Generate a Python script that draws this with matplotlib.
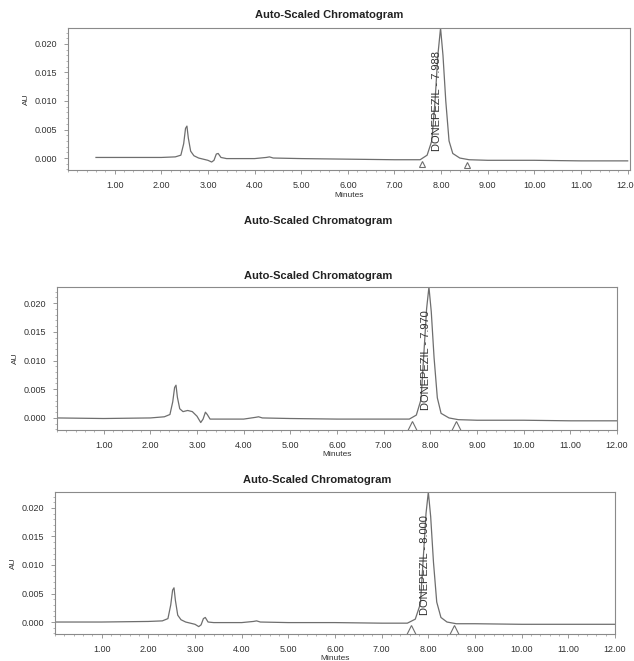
import matplotlib
matplotlib.use("Agg")
import matplotlib.pyplot as plt
from matplotlib.ticker import MultipleLocator, FormatStrFormatter

plt.rcParams['font.family'] = ['Liberation Sans', 'DejaVu Sans']

# ----------------------------
# DATA
# ----------------------------
t1 = [0.6, 1.5, 2.0, 2.3, 2.42, 2.48, 2.52, 2.55, 2.58, 2.63, 2.7, 2.8, 2.9, 3.0, 3.08, 3.13,
      3.18, 3.22, 3.28, 3.4, 4.0, 4.25, 4.32, 4.4, 5.0, 6.0, 7.0, 7.55, 7.7, 7.8, 7.87, 7.93,
      7.988, 8.04, 8.1, 8.17, 8.25, 8.4, 8.6, 9.0, 10.0, 11.0, 12.0]
au1 = [0.0001, 0.0001, 0.0001, 0.0002, 0.0005, 0.0025, 0.0052, 0.0056, 0.0035, 0.0012, 0.0004,
       0.0000, -0.0002, -0.0004, -0.0007, -0.0004, 0.0007, 0.0008, 0.0001, -0.0001, -0.0001,
       0.0001, 0.0002, 0.0000, -0.0001, -0.0002, -0.0003, -0.0003, 0.0005, 0.0030, 0.0100,
       0.0180, 0.0228, 0.0180, 0.0100, 0.0030, 0.0008, 0.0000, -0.0003, -0.0004, -0.0004,
       -0.0005, -0.0005]

t2 = [0.0, 1.0, 2.0, 2.3, 2.42, 2.48, 2.52, 2.55, 2.58, 2.63, 2.7, 2.8, 2.9, 3.0, 3.08, 3.13,
      3.18, 3.22, 3.28, 3.4, 4.0, 4.25, 4.32, 4.4, 5.0, 6.0, 7.0, 7.55, 7.7, 7.8, 7.86, 7.92,
      7.97, 8.02, 8.08, 8.15, 8.23, 8.4, 8.6, 9.0, 10.0, 11.0, 12.0]
au2 = [0.0000, -0.0001, 0.0000, 0.0002, 0.0006, 0.0028, 0.0053, 0.0057, 0.0036, 0.0016, 0.0011,
       0.0013, 0.0011, 0.0003, -0.0008, -0.0002, 0.0010, 0.0006, -0.0002, -0.0002, -0.0002,
       0.0001, 0.0002, 0.0000, -0.0001, -0.0002, -0.0002, -0.0002, 0.0005, 0.0032, 0.0110,
       0.0190, 0.0228, 0.0185, 0.0105, 0.0035, 0.0008, 0.0000, -0.0003, -0.0004, -0.0004,
       -0.0005, -0.0005]

t3 = [0.0, 1.0, 2.0, 2.3, 2.42, 2.48, 2.52, 2.55, 2.58, 2.63, 2.7, 2.8, 2.9, 3.0, 3.08, 3.13,
      3.18, 3.22, 3.28, 3.4, 4.0, 4.25, 4.32, 4.4, 5.0, 6.0, 7.0, 7.55, 7.72, 7.83, 7.89, 7.95,
      8.0, 8.05, 8.11, 8.18, 8.27, 8.4, 8.6, 9.0, 10.0, 11.0, 12.0]
au3 = [0.0000, 0.0000, 0.0001, 0.0002, 0.0006, 0.0030, 0.0056, 0.0060, 0.0038, 0.0012, 0.0004,
       0.0000, -0.0002, -0.0004, -0.0008, -0.0005, 0.0006, 0.0008, 0.0000, -0.0001, -0.0001,
       0.0001, 0.0002, 0.0000, -0.0001, -0.0001, -0.0002, -0.0002, 0.0005, 0.0032, 0.0110,
       0.0190, 0.0228, 0.0185, 0.0105, 0.0035, 0.0008, 0.0000, -0.0003, -0.0003, -0.0004,
       -0.0004, -0.0004]

times = [t1, t2, t3]
signals = [au1, au2, au3]
peak_rt = [7.988, 7.970, 8.000]
peak_names = ["DONEPEZIL - 7.988", "DONEPEZIL - 7.970", "DONEPEZIL - 8.000"]
marks_start = [7.60, 7.60, 7.62]
marks_end = [8.55, 8.55, 8.55]
x_ticks = [1, 2, 3, 4, 5, 6, 7, 8, 9, 10, 11, 12]
title = "Auto-Scaled Chromatogram"

# ----------------------------
# LAYOUT (pixel boxes of the scan)
# ----------------------------
W, H = 634, 661
boxes = [(68, 28, 630, 170), (57, 287, 617, 430), (55, 492, 615, 634)]
x_max = [12.05, 12.0, 12.0]
title_pos = [(329, 15), (318, 276), (317, 480)]
line_col = "#6e6e6e"
txt_col = "#333333"

fig = plt.figure(figsize=(W / 100, H / 100), dpi=100)
fig.patch.set_facecolor("white")

for i in range(3):
    l, t, r, b = boxes[i]
    ax = fig.add_axes([l / W, 1 - b / H, (r - l) / W, (b - t) / H])
    ax.plot(times[i], signals[i], color=line_col, lw=0.9)

    # integration markers
    ms = 5 if i == 0 else 7
    ax.plot([marks_start[i], marks_end[i]], [-0.0011, -0.0012] if i == 0 else [-0.0014, -0.0014],
            ls="none", marker="^", ms=ms, mfc="white", mec=line_col, mew=0.8)

    # peak label
    ax.text(peak_rt[i] - 0.07, 0.0013, peak_names[i], rotation=90, ha="center", va="bottom",
            fontsize=8, color=txt_col)

    ax.set_xticks(x_ticks)
    ax.xaxis.set_minor_locator(MultipleLocator(0.2))
    ax.yaxis.set_major_locator(MultipleLocator(0.005))
    ax.yaxis.set_minor_locator(MultipleLocator(0.001))
    ax.xaxis.set_major_formatter(FormatStrFormatter("%.2f"))
    ax.yaxis.set_major_formatter(FormatStrFormatter("%.3f"))
    ax.set_xlim(0, x_max[i])
    ax.set_ylim(-0.0021, 0.0228)
    ax.tick_params(axis="both", which="major", labelsize=6.5, length=3, width=0.6,
                   colors=txt_col, color="#888888", pad=5)
    ax.tick_params(axis="both", which="minor", length=1.5, width=0.5, color="#999999")
    for s in ax.spines.values():
        s.set_color("#8a8a8a")
        s.set_linewidth(0.8)
    ax.set_xlabel("Minutes", fontsize=6, color=txt_col, labelpad=1)
    ax.set_ylabel("AU", fontsize=6, color=txt_col, labelpad=3)

    fig.text(title_pos[i][0] / W, 1 - title_pos[i][1] / H, title, ha="center", va="center",
             fontsize=8, fontweight="bold", color="#222222")

# faint repeated title between first and second chart
fig.text(318 / W, 1 - 221 / H, title, ha="center", va="center", fontsize=8,
         fontweight="bold", color="#222222")

fig.savefig("out.png", dpi=100, facecolor="white")
